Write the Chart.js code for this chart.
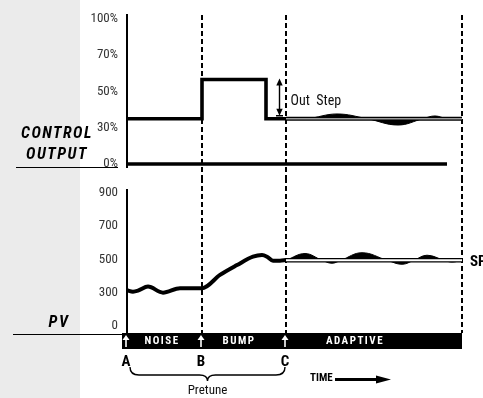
<!DOCTYPE html>
<html>
<head>
<meta charset="utf-8">
<title>Pretune and adaptive tuning</title>
<script src="https://cdn.jsdelivr.net/npm/chart.js"></script>
<style>
  html, body { margin: 0; padding: 0; background: #fff; }
  #wrap { position: relative; width: 483px; height: 398px; overflow: hidden; }
  #shade { position: absolute; left: 0; top: 0; width: 80px; height: 398px; background: #ebebeb; }
  #outBox { position: absolute; left: 0; top: 0; }
  #pvBox { position: absolute; left: 0; top: 178px; }
</style>
</head>
<body>
<div id="wrap">
  <div id="shade"></div>
  <div id="outBox"><canvas id="outChart" width="483" height="178"></canvas></div>
  <div id="pvBox"><canvas id="pvChart" width="483" height="220"></canvas></div>
</div>
<script>
// time marks: A, B, C and end of the adaptive window
const phaseTime = [0, 75, 159, 335];
const phaseLetters = ['A', 'B', 'C'];
const phaseNames = ['NOISE', 'BUMP', 'ADAPTIVE'];

// control output (%)
const outTicks = [0, 30, 50, 70, 100];
const outTickLabels = ['0%', '30%', '50%', '70%', '100%'];
const outStepTime = [0, 75, 75, 139, 139, 159];
const outStepValue = [35, 35, 56.6, 56.6, 35, 35];
const outZeroTime = [0, 320];
const outZeroValue = [0, 0];
const outLevelTime = [159, 335];
const outLevelValue = [35, 35];
const outAdaptTime = [159, 180, 210, 240, 271, 296, 308, 320, 335];
const outAdaptValue = [35, 35, 37.6, 35, 31.5, 35, 36.5, 35, 35];
const outStepMarkTime = 152;

// process variable
const pvTicks = [0, 300, 500, 700, 900];
const pvTickLabels = ['0', '300', '500', '700', '900'];
const pvTime = [0, 6, 11, 21, 36, 53, 73, 75, 93, 110, 126, 135, 140, 146, 153, 159];
const pvValue = [315, 307, 313, 337, 301, 327, 327, 327, 407, 466, 516, 526, 516, 492, 492, 496];
const spTime = [159, 335];
const spValue = [495, 495];
const pvAdaptTime = [159, 178, 195, 205, 214, 235, 260, 275, 287, 300, 317, 325, 335];
const pvAdaptValue = [495, 535, 495, 477, 495, 540, 495, 471, 495, 525, 495, 484, 495];

const FONT = "'Roboto Condensed', 'Liberation Sans Narrow', 'DejaVu Sans Condensed', Roboto, sans-serif";

// the axes are drawn with evenly spaced tick labels, so values are placed piecewise between them
function toIdx(v, ticks) {
  for (let i = 1; i < ticks.length; i++) {
    if (v <= ticks[i]) return i - 1 + (v - ticks[i - 1]) / (ticks[i] - ticks[i - 1]);
  }
  const n = ticks.length - 1;
  return n + (v - ticks[n]) / (ticks[n] - ticks[n - 1]);
}
function pts(xs, ys, ticks) {
  return xs.map((x, i) => ({ x: x, y: toIdx(ys[i], ticks) }));
}

function baseOptions(labels, yMin, yMax, padTop, padBottom) {
  return {
    responsive: false,
    animation: false,
    layout: { padding: { left: 0, right: 21, top: padTop, bottom: padBottom } },
    plugins: { legend: { display: false }, tooltip: { enabled: false } },
    elements: { point: { radius: 0 }, line: { borderColor: '#000', borderCapStyle: 'butt' } },
    scales: {
      x: { type: 'linear', min: phaseTime[0], max: phaseTime[3], display: false },
      y: {
        type: 'linear',
        min: yMin,
        max: yMax,
        afterBuildTicks: s => { s.ticks = labels.map((l, i) => ({ value: i })); },
        afterFit: s => { s.width = 127; s.paddingTop = 0; s.paddingBottom = 0; },
        grid: { display: false, drawTicks: false },
        border: { display: true, color: '#000', width: 2 },
        ticks: {
          padding: 9,
          color: '#333',
          font: { family: FONT, size: 13 },
          callback: v => labels[v]
        }
      }
    }
  };
}

function phaseLines(chart, yTop, yBottom) {
  const { ctx, scales: { x } } = chart;
  ctx.save();
  ctx.strokeStyle = '#000';
  ctx.lineWidth = 2;
  ctx.setLineDash([5, 3]);
  phaseTime.slice(1).forEach(t => {
    const px = Math.round(x.getPixelForValue(t));
    ctx.beginPath();
    ctx.moveTo(px, yTop);
    ctx.lineTo(px, yBottom);
    ctx.stroke();
  });
  ctx.restore();
}

function sideLabel(ctx, lines, cx, ys, ulX0, ulX1, ulY) {
  ctx.save();
  ctx.fillStyle = '#000';
  ctx.font = 'italic bold 16px ' + FONT;
  ctx.letterSpacing = '1.5px';
  ctx.textAlign = 'center';
  ctx.textBaseline = 'middle';
  lines.forEach((s, i) => ctx.fillText(s, cx, ys[i]));
  ctx.letterSpacing = '0px';
  ctx.strokeStyle = '#000';
  ctx.lineWidth = 1.2;
  ctx.beginPath();
  ctx.moveTo(ulX0, ulY);
  ctx.lineTo(ulX1, ulY);
  ctx.stroke();
  ctx.restore();
}

const outDecor = {
  id: 'outDecor',
  beforeDatasetsDraw(chart) {
    phaseLines(chart, chart.chartArea.top, chart.height);
  },
  afterDraw(chart) {
    const { ctx, scales: { x, y } } = chart;
    sideLabel(ctx, ['CONTROL', 'OUTPUT'], 57, [134, 155], 16, 118, 167.5);

    // out step arrow
    const ax = Math.round(x.getPixelForValue(outStepMarkTime)) + 0.5;
    const yTop = y.getPixelForValue(toIdx(outStepValue[2], outTicks)) - 1;
    const yBot = y.getPixelForValue(toIdx(outStepValue[0], outTicks)) - 3;
    ctx.save();
    ctx.strokeStyle = '#000';
    ctx.fillStyle = '#000';
    ctx.lineWidth = 1.4;
    ctx.beginPath();
    ctx.moveTo(ax, yTop + 5);
    ctx.lineTo(ax, yBot - 5);
    ctx.moveTo(ax - 3.5, yBot);
    ctx.lineTo(ax + 3.5, yBot);
    ctx.stroke();
    ctx.beginPath();
    ctx.moveTo(ax, yTop);
    ctx.lineTo(ax - 3.2, yTop + 7);
    ctx.lineTo(ax + 3.2, yTop + 7);
    ctx.closePath();
    ctx.fill();
    ctx.beginPath();
    ctx.moveTo(ax, yBot);
    ctx.lineTo(ax - 3.2, yBot - 7);
    ctx.lineTo(ax + 3.2, yBot - 7);
    ctx.closePath();
    ctx.fill();
    ctx.font = '14px ' + FONT;
    ctx.textAlign = 'left';
    ctx.textBaseline = 'middle';
    ctx.fillStyle = '#111';
    ctx.fillText('Out  Step', ax + 11, 101);
    ctx.restore();
  }
};

const pvDecor = {
  id: 'pvDecor',
  beforeDatasetsDraw(chart) {
    phaseLines(chart, 0, chart.chartArea.bottom);
  },
  afterDraw(chart) {
    const { ctx, chartArea, scales: { x } } = chart;
    sideLabel(ctx, ['PV'], 59, [145], 13, 126, 156.5);

    // phase band
    const top = chartArea.bottom;
    const xs = phaseTime.map(t => Math.round(x.getPixelForValue(t)));
    ctx.save();
    ctx.fillStyle = '#000';
    ctx.fillRect(xs[0] - 5, top, xs[3] - xs[0] + 5, 16);

    const nameOffsets = [35, 37, 69];
    ctx.textBaseline = 'middle';
    phaseNames.forEach((name, i) => {
      const ax = xs[i] - 1;
      // white up arrow
      ctx.strokeStyle = '#fff';
      ctx.fillStyle = '#fff';
      ctx.lineWidth = 1.6;
      ctx.beginPath();
      ctx.moveTo(ax, top + 14);
      ctx.lineTo(ax, top + 6);
      ctx.stroke();
      ctx.beginPath();
      ctx.moveTo(ax, top + 2);
      ctx.lineTo(ax - 3.5, top + 7);
      ctx.lineTo(ax + 3.5, top + 7);
      ctx.closePath();
      ctx.fill();
      // phase name
      ctx.font = 'bold 11px ' + FONT;
      ctx.letterSpacing = '1.5px';
      ctx.textAlign = 'center';
      ctx.fillText(name, xs[i] + nameOffsets[i], top + 8.5);
      ctx.letterSpacing = '0px';
      // letter under the band
      ctx.fillStyle = '#000';
      ctx.font = 'bold 15px ' + FONT;
      ctx.fillText(phaseLetters[i], ax, top + 29);
    });

    // pretune brace from A to C
    const xl = xs[0] + 3, xr = xs[2] - 1, xm = (xl + xr) / 2;
    const b0 = top + 34, b1 = top + 42, b2 = top + 48;
    ctx.strokeStyle = '#000';
    ctx.lineWidth = 1.4;
    ctx.beginPath();
    ctx.moveTo(xl, b0);
    ctx.quadraticCurveTo(xl, b1, xl + 9, b1);
    ctx.lineTo(xm - 8, b1);
    ctx.quadraticCurveTo(xm, b1, xm, b2);
    ctx.quadraticCurveTo(xm, b1, xm + 8, b1);
    ctx.lineTo(xr - 9, b1);
    ctx.quadraticCurveTo(xr, b1, xr, b0);
    ctx.stroke();
    ctx.font = '13px ' + FONT;
    ctx.fillStyle = '#111';
    ctx.textAlign = 'center';
    ctx.fillText('Pretune', xm, top + 58);

    // time arrow
    ctx.fillStyle = '#000';
    ctx.font = 'bold 11px ' + FONT;
    ctx.textAlign = 'left';
    ctx.fillText('TIME', 310, top + 45);
    ctx.lineWidth = 3;
    ctx.beginPath();
    ctx.moveTo(335, top + 46.5);
    ctx.lineTo(378, top + 46.5);
    ctx.stroke();
    ctx.beginPath();
    ctx.moveTo(391, top + 46.5);
    ctx.lineTo(376, top + 42.5);
    ctx.lineTo(376, top + 50.5);
    ctx.closePath();
    ctx.fill();

    // setpoint label
    ctx.font = 'bold 15px ' + FONT;
    ctx.fillText('SP', xs[3] + 8, 84);
    ctx.restore();
  }
};

new Chart(document.getElementById('outChart'), {
  type: 'line',
  data: {
    datasets: [
      { label: 'level core', data: pts(outLevelTime, outLevelValue, outTicks), borderColor: '#9a9a9a', borderWidth: 1.4 },
      { label: 'level', data: pts(outLevelTime, outLevelValue, outTicks), borderWidth: 4 },
      { label: 'output adaptive', data: pts(outAdaptTime, outAdaptValue, outTicks), borderWidth: 1, tension: 0.4, fill: 1, backgroundColor: '#000' },
      { label: 'output', data: pts(outStepTime, outStepValue, outTicks), borderWidth: 3.6, borderJoinStyle: 'miter' },
      { label: 'zero', data: pts(outZeroTime, outZeroValue, outTicks), borderWidth: 3.6 }
    ]
  },
  options: baseOptions(outTickLabels, -0.083, 4.11, 15, 11),
  plugins: [outDecor]
});

new Chart(document.getElementById('pvChart'), {
  type: 'line',
  data: {
    datasets: [
      { label: 'SP core', data: pts(spTime, spValue, pvTicks), borderColor: '#fff', borderWidth: 1.8 },
      { label: 'SP', data: pts(spTime, spValue, pvTicks), borderWidth: 4.4 },
      { label: 'PV adaptive', data: pts(pvAdaptTime, pvAdaptValue, pvTicks), borderWidth: 1, tension: 0.4, fill: 1, backgroundColor: '#000' },
      { label: 'PV', data: pts(pvTime, pvValue, pvTicks), borderWidth: 4, cubicInterpolationMode: 'monotone', borderCapStyle: 'round' }
    ]
  },
  options: baseOptions(pvTickLabels, -0.2036, 4.078, 12, 65),
  plugins: [pvDecor]
});
</script>
</body>
</html>
